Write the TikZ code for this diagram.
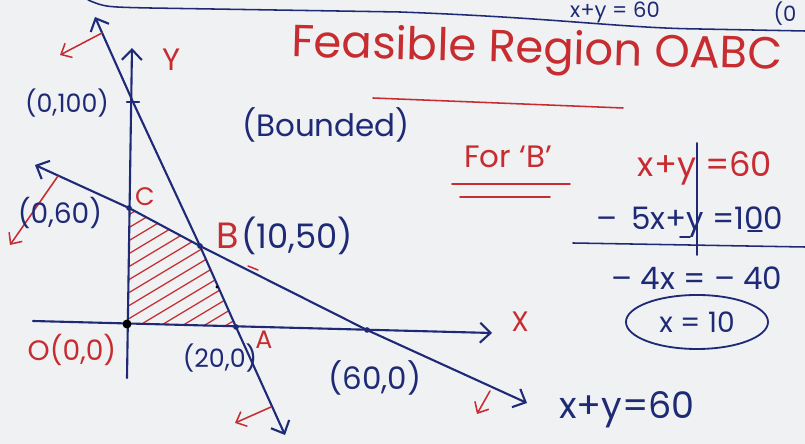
\documentclass[tikz,border=0pt]{standalone}
\usepackage{fontspec}
\setmainfont{Poppins}
\usepackage{tikz}
\usetikzlibrary{positioning,arrows.meta,shapes.geometric,calc}
\definecolor{penblue}{RGB}{30,42,118}
\definecolor{penred}{RGB}{198,44,48}
\definecolor{paper}{RGB}{240,241,243}
\tikzset{
  ink/.style={draw=penblue, line width=1.5pt, line cap=round, line join=round},
  thinink/.style={draw=penblue, line width=1.1pt, line cap=round},
  redink/.style={draw=penred, line width=1.1pt, line cap=round},
  barb/.style={-{Straight Barb[length=2.6mm,width=5mm]}},
  rbarb/.style={-{Straight Barb[length=2.2mm,width=4mm]}},
  hatch/.style={draw=penred, line width=0.9pt, line cap=round},
  lbl/.style={text=penblue, inner sep=0pt, font=\fontsize{#1}{#1}\selectfont},
  rlbl/.style={text=penred, inner sep=0pt, font=\fontsize{#1}{#1}\selectfont},
}

\begin{document}
\begin{tikzpicture}[x=0.025cm, y=-0.025cm]
    \fill[paper] (0,0) rectangle (805,444);
    \useasboundingbox (0,0) rectangle (805,444);
    \clip (0,0) rectangle (805,444);

    % corner points and line ends
    \coordinate (O) at (127,324);
    \coordinate (A) at (236,327);
    \coordinate (B) at (200,246);
    \coordinate (C) at (129,208);
    \coordinate (P100) at (133,102);
    \coordinate (P60) at (367,330);
    \coordinate (ytop) at (132,48);
    \coordinate (ybot) at (127,378);
    \coordinate (xl) at (33,321);
    \coordinate (xr) at (492,333);
    \coordinate (Ltop) at (95,17);
    \coordinate (Lbot) at (285,435);
    \coordinate (Mleft) at (35,165);
    \coordinate (Mright) at (527,403);

    % feasible region
    \begin{scope}
      \clip (O) -- (A) -- (B) -- (C) -- cycle;
      \foreach \c in {292,305,...,470}
        \draw[hatch] (120,{\c-72}) -- (245,{\c-147});
    \end{scope}

    % axes and lines
    \draw[ink, barb] (ybot) -- (ytop);
    \draw[ink, barb] (xl) -- (xr);
    \draw[ink, {Straight Barb[length=2.6mm,width=5mm]}-{Straight Barb[length=2.6mm,width=5mm]}]
      (Ltop) -- (P100) -- (B) -- (A) -- (Lbot);
    \draw[ink, {Straight Barb[length=2.6mm,width=5mm]}-{Straight Barb[length=2.6mm,width=5mm]}]
      (Mleft) -- (C) -- (B) -- (P60) -- (Mright);

    % direction arrows
    \coordinate (r1s) at (102,33);  \coordinate (r1e) at (60,55);
    \coordinate (r2s) at (58,176);  \coordinate (r2e) at (10,245);
    \coordinate (r3s) at (271,407); \coordinate (r3e) at (235,423);
    \coordinate (r4s) at (490,391); \coordinate (r4e) at (477,414);
    \draw[redink, rbarb] (r1s) -- (r1e);
    \draw[redink, rbarb] (r2s) -- (r2e);
    \draw[redink, rbarb] (r3s) -- (r3e);
    \draw[redink, rbarb] (r4s) -- (r4e);
    \draw[redink] (248,266) -- (258,270);

    % points
    \fill[black] (O) circle (3.2pt);
    \foreach \p in {A,B,C,P60}
      \fill[penblue] (\p) circle (2pt);
    \draw[ink] ($(P100)+(-6,0)$) -- ($(P100)+(6,0)$);
    \fill[black] (217,287) circle (1.2pt);

    % graph labels
    \node[lbl=18] (lbl100) at (67,103) {(0,100)};
    \node[lbl=20] (lbl60) at (60,213) {(0,60)};
    \node[rlbl=18] (lblC) at (145,197) {C};
    \node[rlbl=26] (lblB) at (228,236) {B};
    \node[lbl=24, right=1pt of lblB] (lblB2) {(10,50)};
    \node[rlbl=18] (lblA) at (264,340) {A};
    \node[lbl=18] (lbl20) at (220,358) {(20,0)};
    \node[lbl=22] (lbl600) at (375,378) {(60,0)};
    \node[rlbl=20] (lblO) at (72,350) {O(0,0)};
    \node[rlbl=22] (lblY) at (172,60) {Y};
    \node[rlbl=20] (lblX) at (520,322) {X};
    \node[lbl=26] (lblline) at (627,410) {x+y=60};

    % notes
    \node[rlbl=32, rotate=-1.5] (title) at (537,52) {Feasible Region OABC};
    \draw[redink] (373,98) -- (623,108);
    \node[lbl=22] (bnd) at (326,125) {(Bounded)};
    \node[rlbl=22] (forB) at (508,157) {For ‘B’};
    \draw[redink] (452,184) -- (570,184);
    \draw[redink] (460,197) -- (550,197);

    % solving for B
    \node[rlbl=24] (eq1) at (705,168) {x+y =60};
    \node[lbl=22] (eq2) at (690,222) {–\;\,5x+y =100};
    \draw[thinink] (680,237) -- (690,237);
    \draw[thinink] (748,231) -- (762,231);
    \draw[thinink] (697,143) -- (697,255);
    \draw[thinink] (573,243) -- (805,247);
    \node[lbl=22] (eq3) at (697,278) {– 4x = – 40};
    \node[lbl=20, ellipse, draw=penblue, line width=1.3pt,
          minimum width=3.55cm, minimum height=1.35cm] (res) at (697,322) {x = 10};

    % top of page
    \draw[thinink] (88,0) .. controls (105,7) .. (150,8) -- (400,12)
      .. controls (560,18) and (620,28) .. (700,29) -- (805,31);
    \node[lbl=15] (topeq) at (615,12) {x+y = 60};
    \node[lbl=15] (topp) at (785,14) {(0};
\end{tikzpicture}
\end{document}
